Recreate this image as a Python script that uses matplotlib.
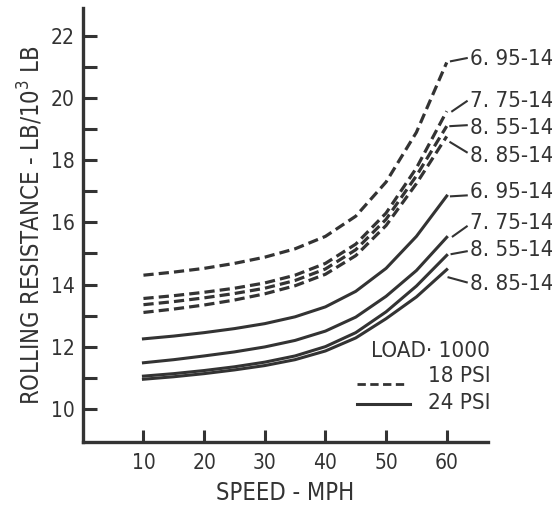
import matplotlib
matplotlib.use("Agg")
import matplotlib.pyplot as plt
from matplotlib.lines import Line2D

plt.rcParams['font.family'] = ['DejaVu Sans']
plt.rcParams['font.stretch'] = 'condensed'

speed = [10, 15, 20, 25, 30, 35, 40, 45, 50, 55, 60]

# 18 PSI (dashed)
d_695 = [14.30, 14.40, 14.52, 14.68, 14.88, 15.15, 15.55, 16.20, 17.30, 18.90, 21.15]
d_775 = [13.55, 13.64, 13.75, 13.88, 14.05, 14.30, 14.68, 15.30, 16.30, 17.75, 19.58]
d_855 = [13.35, 13.45, 13.57, 13.71, 13.88, 14.13, 14.50, 15.12, 16.10, 17.50, 19.10]
d_885 = [13.10, 13.21, 13.34, 13.50, 13.70, 13.96, 14.33, 14.93, 15.90, 17.25, 18.77]

# 24 PSI (solid)
s_695 = [12.25, 12.34, 12.45, 12.58, 12.74, 12.96, 13.28, 13.78, 14.52, 15.55, 16.85]
s_775 = [11.48, 11.58, 11.70, 11.83, 11.99, 12.20, 12.50, 12.95, 13.62, 14.45, 15.52]
s_855 = [11.05, 11.13, 11.23, 11.35, 11.50, 11.70, 12.00, 12.45, 13.12, 13.95, 14.94]
s_885 = [10.95, 11.03, 11.13, 11.25, 11.39, 11.58, 11.86, 12.28, 12.90, 13.60, 14.48]

tire_labels = ["6. 95-14", "7. 75-14", "8. 55-14", "8. 85-14"]
dashed_series = [d_695, d_775, d_855, d_885]
solid_series = [s_695, s_775, s_855, s_885]

x_ticks = [10, 20, 30, 40, 50, 60]
y_ticks = [10, 12, 14, 16, 18, 20, 22]

col = '#333333'

fig = plt.figure(figsize=(5.52, 5.08), dpi=100)
ax = fig.add_axes([0.150, 0.130, 0.734, 0.854])
ax.set_xlim(0, 66.8)
ax.set_ylim(8.93, 22.9)

for ys in dashed_series:
    ax.plot(speed, ys, color=col, lw=2.3, ls=(0, (3.2, 1.6)))
for ys in solid_series:
    ax.plot(speed, ys, color=col, lw=2.2)

# label leader lines: (start y, end y) and label centre y
lead_start = [21.19, 19.58, 19.10, 18.58, 16.84, 15.55, 14.98, 14.23]
lead_end = [21.29, 19.90, 19.13, 18.26, 16.87, 15.87, 15.07, 14.07]
lab_y = [21.26, 19.92, 19.05, 18.13, 16.97, 15.97, 15.10, 14.02]
lead_x0 = [60.7, 60.9, 60.6, 60.6, 60.7, 61.0, 60.8, 60.3]
for lab, y0, y1, ly, x0 in zip(tire_labels + tire_labels, lead_start, lead_end, lab_y, lead_x0):
    ax.plot([x0, 63.3], [y0, y1], color=col, lw=1.5)
    ax.text(63.8, ly, lab, fontsize=16, color=col, va='center', ha='left', clip_on=False)

# legend block
ax.text(67.2, 11.85, "LOAD· 1000", fontsize=16, color=col, ha='right', va='center', clip_on=False)
ax.text(67.2, 11.05, "18 PSI", fontsize=16, color=col, ha='right', va='center', clip_on=False)
ax.text(67.2, 10.2, "24 PSI", fontsize=16, color=col, ha='right', va='center', clip_on=False)
ax.add_line(Line2D([45.2, 53.6], [10.8, 10.8], color=col, lw=2.0, ls=(0, (3.0, 1.6))))
ax.add_line(Line2D([45.2, 54.0], [10.15, 10.15], color=col, lw=2.2))

ax.spines['top'].set_visible(False)
ax.spines['right'].set_visible(False)
for s in ['left', 'bottom']:
    ax.spines[s].set_linewidth(2.4)
    ax.spines[s].set_color(col)

ax.set_xticks(x_ticks)
ax.set_yticks(y_ticks)
ax.set_yticks([11, 13, 15, 17, 19, 21], minor=True)
ax.tick_params(axis='both', which='both', direction='in', color=col, width=2.2, labelcolor=col, labelsize=15)
ax.tick_params(axis='y', which='both', length=10, pad=6)
ax.tick_params(axis='x', which='major', length=9, pad=8)

ax.set_xlabel("SPEED - MPH", fontsize=17, color=col, labelpad=6)
ax.set_ylabel("ROLLING RESISTANCE - LB/10$^3$ LB", fontsize=17, color=col, labelpad=4)

fig.savefig("out.png", dpi=100)
